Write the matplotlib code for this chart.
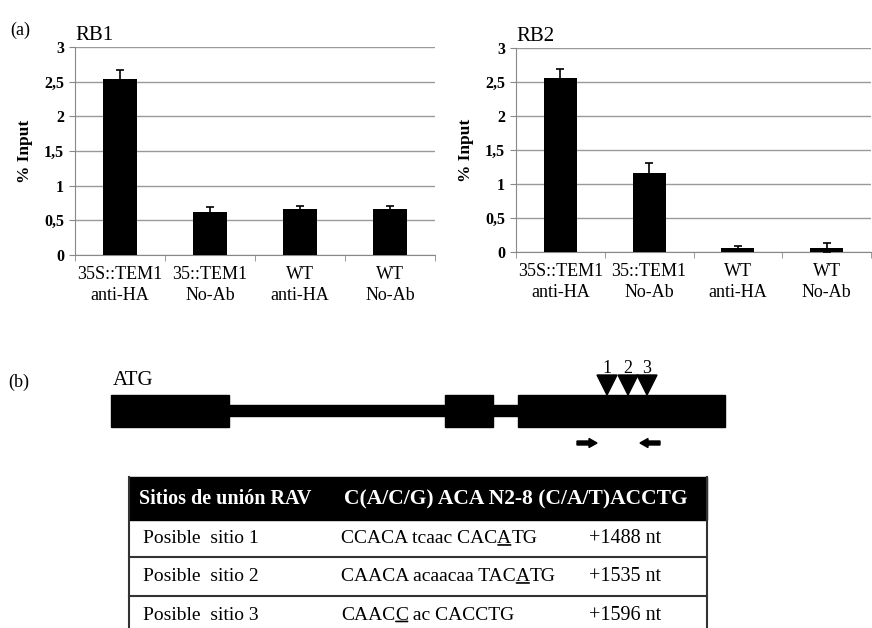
#!/usr/bin/env python3

import matplotlib
matplotlib.use("Agg")
import matplotlib.pyplot as plt
from matplotlib.patches import Rectangle, Polygon

# ChIP-qPCR enrichment (% input) for the two regions
categories = ["35S::TEM1\nanti-HA", "35::TEM1\nNo-Ab", "WT\nanti-HA", "WT\nNo-Ab"]
rb1_input = [2.54, 0.62, 0.66, 0.66]
rb1_err = [0.13, 0.07, 0.05, 0.05]
rb2_input = [2.56, 1.16, 0.06, 0.06]
rb2_err = [0.13, 0.15, 0.03, 0.07]
ytick_vals = [0, 0.5, 1, 1.5, 2, 2.5, 3]
ytick_labels = ["0", "0,5", "1", "1,5", "2", "2,5", "3"]

# gene model (drawing units along the locus)
exon_starts = [111, 445, 518]
exon_ends = [229, 493, 725]
site_labels = ["1", "2", "3"]
site_pos = [607, 628, 647]
primer_fwd = [577, 597]
primer_rev = [660, 640]

# RAV binding sites table
table_header = ["Sitios de unión RAV", "C(A/C/G) ACA N2-8 (C/A/T)ACCTG"]
site_names = ["Posible  sitio 1", "Posible  sitio 2", "Posible  sitio 3"]
site_seqs = ["CCACA tcaac CACATG", "CAACA acaacaa TACATG", "CAACC ac CACCTG"]
site_underline = [15, 17, 4]
site_nt = ["+1488 nt", "+1535 nt", "+1596 nt"]

W, H = 872, 628
SERIF = ["Liberation Serif", "DejaVu Serif"]


def px_axes(fig, x0, y0, x1, y1):
    return fig.add_axes([x0 / W, 1 - y1 / H, (x1 - x0) / W, (y1 - y0) / H])


def bar_panel(ax, values, errs, title):
    x = range(len(values))
    ax.bar(x, values, width=0.37, color="black", zorder=3)
    ax.errorbar(x, values, yerr=errs, fmt="none", ecolor="black",
                elinewidth=1.2, capsize=3, capthick=1.2, zorder=4)
    ax.set_xlim(-0.5, len(values) - 0.5)
    ax.set_ylim(0, 3)
    ax.set_yticks(ytick_vals)
    ax.set_yticklabels(ytick_labels, fontfamily=SERIF, fontweight="bold", fontsize=11.5)
    ax.set_xticks(list(x))
    ax.set_xticklabels(categories, fontfamily=SERIF, fontsize=13, linespacing=1.3)
    ax.set_xticks([i - 0.5 for i in range(len(values) + 1)], minor=True)
    ax.tick_params(axis="x", which="major", length=0, pad=8)
    ax.tick_params(axis="x", which="minor", length=4, color="#888888", direction="out")
    ax.tick_params(axis="y", length=4, color="#888888", pad=4)
    ax.yaxis.grid(True, color="#9a9a9a", lw=1, zorder=0)
    ax.set_axisbelow(True)
    for side in ["top", "right"]:
        ax.spines[side].set_visible(False)
    for side in ["left", "bottom"]:
        ax.spines[side].set_color("#888888")
    ax.set_ylabel("% Input", fontfamily=SERIF, fontweight="bold", fontsize=12.5,
                  labelpad=8)
    ax.set_title(title, loc="left", fontfamily=SERIF, fontsize=15, pad=5)


fig = plt.figure(figsize=(W / 100, H / 100), dpi=100)

# overlay in pixel units for the diagram and table
ov = fig.add_axes([0, 0, 1, 1])
ov.set_xlim(0, W)
ov.set_ylim(H, 0)
ov.axis("off")

ax1 = px_axes(fig, 75, 47, 435, 255)
bar_panel(ax1, rb1_input, rb1_err, "RB1")
ax2 = px_axes(fig, 516, 48, 871, 252)
bar_panel(ax2, rb2_input, rb2_err, "RB2")

ov.text(10, 35, "(a)", fontfamily=SERIF, fontsize=13)
ov.text(8, 387, "(b)", fontfamily=SERIF, fontsize=13)
ov.text(113, 385, "ATG", fontfamily=SERIF, fontsize=15)

# introns then exons
ov.add_patch(Rectangle((exon_ends[0], 405), exon_starts[-1] - exon_ends[0], 11,
                       color="black"))
for s, e in zip(exon_starts, exon_ends):
    ov.add_patch(Rectangle((s, 395), e - s, 32, color="black"))

for lab, xp in zip(site_labels, site_pos):
    ov.add_patch(Polygon([(xp - 10, 375), (xp + 10, 375), (xp, 395)], closed=True,
                         color="black"))
    ov.text(xp, 373, lab, ha="center", va="baseline", fontfamily=SERIF, fontsize=13)

for x0, x1 in [primer_fwd, primer_rev]:
    ov.arrow(x0, 443, x1 - x0, 0, width=4, head_width=9, head_length=8,
             length_includes_head=True, color="black")

# table
tx0, tx1 = 129, 707
row_tops = [477, 520, 557, 596]
ov.add_patch(Rectangle((tx0, row_tops[0]), tx1 - tx0, row_tops[1] - row_tops[0],
                       color="black"))
for yl in row_tops[2:]:
    ov.plot([tx0, tx1], [yl, yl], color="#333333", lw=1.5)
for xl in [tx0, tx1]:
    ov.plot([xl, xl], [row_tops[0], H], color="#333333", lw=1.5)

col_x = [143, 341, 589]
hy = (row_tops[0] + row_tops[1]) / 2 + 1
ov.text(col_x[0] - 4, hy, table_header[0], color="white", fontweight="bold",
        fontfamily=SERIF, fontsize=14.5, va="center")
ov.text(col_x[1] + 3, hy, table_header[1], color="white", fontfamily=SERIF,
        fontsize=15.5, va="center", fontweight="bold")

row_mid = [538.5, 576.5, 615]
for name, seq, ui, nt, ym in zip(site_names, site_seqs, site_underline, site_nt, row_mid):
    ov.text(col_x[0], ym, name, fontfamily=SERIF, fontsize=14, va="center")
    ov.text(col_x[2], ym, nt, fontfamily=SERIF, fontsize=14.5, va="center")
    t1 = ov.text(col_x[1], ym, seq[:ui], fontfamily=SERIF, fontsize=14, va="center")
    t2 = ov.annotate(seq[ui], xy=(1, 0), xycoords=t1, va="bottom", ha="left",
                     fontfamily=SERIF, fontsize=14)
    ov.annotate(seq[ui + 1:], xy=(1, 0), xycoords=t2, va="bottom", ha="left",
                fontfamily=SERIF, fontsize=14)
    ov.annotate("", xy=(0.05, 0.12), xycoords=t2, xytext=(0.95, 0.12), textcoords=t2,
                arrowprops=dict(arrowstyle="-", lw=1.2, color="black",
                                shrinkA=0, shrinkB=0))

fig.savefig("out.png", dpi=100)
